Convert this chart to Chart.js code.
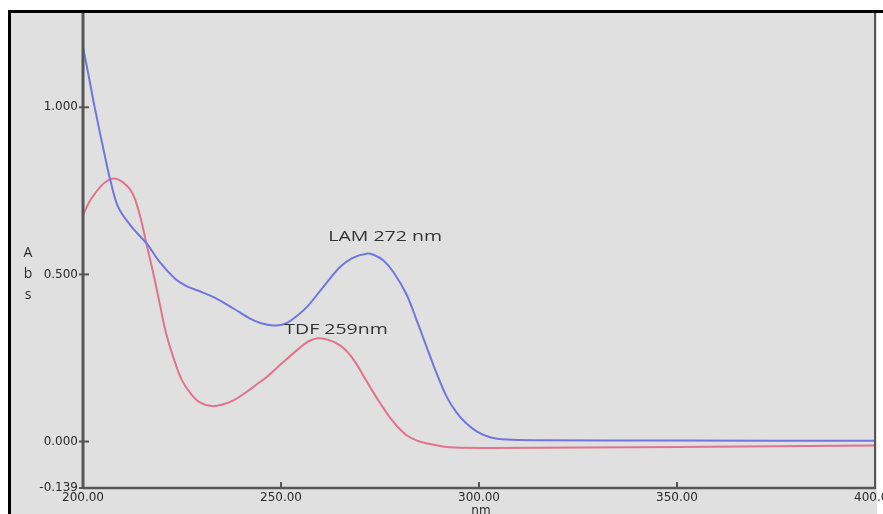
<!DOCTYPE html>
<html>
<head>
<meta charset="utf-8">
<script src="https://cdn.jsdelivr.net/npm/chart.js@4.4.1/dist/chart.umd.min.js"></script>
<style>
html,body{margin:0;padding:0;background:#fff;}
canvas{display:block;}
</style>
</head>
<body>
<canvas id="c" width="883" height="514"></canvas>
<script>
// ---- data ----
const wavelengthTicks = [200, 250, 300, 350, 400];
const absTicks = [-0.139, 0, 0.5, 1];

const lamWavelength = [200, 201.5, 203, 205.6, 206.8, 208.9, 212.3, 216.1, 219.5, 223.2, 226, 230, 233.8, 238, 242.2, 245, 248, 250.5, 252.5, 256.5, 260.5, 264.9, 268, 271.6, 273.5, 275.8, 278.5, 281.7, 284.3, 286.8, 289.3, 291.8, 294.3, 296.9, 299.5, 302.8, 307, 315, 350, 400];
const lamAbs = [1.180, 1.090, 0.997, 0.850, 0.787, 0.701, 0.642, 0.592, 0.535, 0.488, 0.466, 0.447, 0.427, 0.398, 0.368, 0.354, 0.347, 0.350, 0.362, 0.402, 0.460, 0.522, 0.549, 0.562, 0.558, 0.542, 0.505, 0.440, 0.362, 0.282, 0.204, 0.135, 0.087, 0.053, 0.030, 0.013, 0.006, 0.004, 0.003, 0.002];

const tdfWavelength = [200, 201.5, 203, 205.5, 207.8, 210, 212.4, 214.3, 216, 218, 219.5, 221, 223, 225, 227.3, 229.5, 232.5, 235, 238, 241, 244, 246.4, 250.5, 254.8, 257, 259.3, 262, 265, 267, 269, 271, 273, 275.3, 277.5, 279.6, 281.8, 284.5, 287, 290.5, 294, 303, 350, 400];
const tdfAbs = [0.677, 0.715, 0.742, 0.775, 0.787, 0.776, 0.745, 0.680, 0.593, 0.490, 0.405, 0.323, 0.245, 0.183, 0.142, 0.117, 0.106, 0.110, 0.123, 0.146, 0.172, 0.193, 0.237, 0.281, 0.300, 0.309, 0.304, 0.287, 0.265, 0.233, 0.193, 0.153, 0.110, 0.072, 0.042, 0.018, 0.002, -0.006, -0.014, -0.018, -0.019, -0.016, -0.012];

const peakLabels = ['LAM 272 nm', 'TDF 259nm'];
const peakLabelX = [276.3, 263.9];
const peakLabelY = [0.614, 0.335];

const yTitleLetters = ['A', 'b', 's'];
const xTitle = 'nm';

const lamPoints = lamWavelength.map((w, i) => ({x: w, y: lamAbs[i]}));
const tdfPoints = tdfWavelength.map((w, i) => ({x: w, y: tdfAbs[i]}));

const AXIS = '#565656';
const TEXT = '#2a2a2a';

const framePlugin = {
  id: 'frame',
  beforeDraw(chart) {
    const ctx = chart.ctx;
    ctx.save();
    ctx.fillStyle = '#ffffff';
    ctx.fillRect(0, 0, chart.width, chart.height);
    ctx.fillStyle = '#e0e0e0';
    ctx.fillRect(10, 12, chart.chartArea.right + 2 - 10, chart.height - 12);
    ctx.fillStyle = '#000000';
    ctx.fillRect(8, 10, chart.width - 8, 3);
    ctx.fillRect(8, 10, 3, chart.height - 10);
    ctx.restore();
  },
  afterDraw(chart) {
    const ctx = chart.ctx;
    const a = chart.chartArea;
    const xs = chart.scales.x, ys = chart.scales.y;
    ctx.save();
    ctx.strokeStyle = AXIS;
    // left axis
    ctx.lineWidth = 3;
    ctx.beginPath(); ctx.moveTo(a.left, 13); ctx.lineTo(a.left, a.bottom + 1); ctx.stroke();
    // bottom axis
    ctx.lineWidth = 2.5;
    ctx.beginPath(); ctx.moveTo(a.left, a.bottom); ctx.lineTo(a.right + 1, a.bottom); ctx.stroke();
    // right axis
    ctx.lineWidth = 2;
    ctx.beginPath(); ctx.moveTo(a.right, 13); ctx.lineTo(a.right, a.bottom + 1); ctx.stroke();
    // y tick marks
    ctx.lineWidth = 2;
    absTicks.forEach(v => {
      const py = ys.getPixelForValue(v);
      ctx.beginPath(); ctx.moveTo(a.left - 4, py); ctx.lineTo(a.left + 6, py); ctx.stroke();
    });
    // x tick marks (inward)
    wavelengthTicks.forEach(v => {
      const px = xs.getPixelForValue(v);
      ctx.beginPath(); ctx.moveTo(px, a.bottom); ctx.lineTo(px, a.bottom - 6); ctx.stroke();
    });
    // peak labels
    ctx.fillStyle = '#333333';
    ctx.font = '15px "Open Sans"';
    ctx.textAlign = 'center';
    ctx.textBaseline = 'middle';
    peakLabels.forEach((t, i) => {
      const px = xs.getPixelForValue(peakLabelX[i]);
      const py = ys.getPixelForValue(peakLabelY[i]);
      ctx.save();
      ctx.translate(px, py);
      ctx.scale(1.3, 1);
      ctx.fillText(t, 0, 0);
      ctx.restore();
    });
    // y title (stacked letters)
    ctx.fillStyle = TEXT;
    ctx.font = '14px "Open Sans"';
    const mid = ys.getPixelForValue(0.5);
    yTitleLetters.forEach((ch, i) => {
      ctx.fillText(ch, 28, mid - 21 + i * 21);
    });
    // x title
    ctx.font = '12px "DejaVu Sans"';
    ctx.textBaseline = 'top';
    ctx.fillText(xTitle, xs.getPixelForValue(300) + 2, 505);
    ctx.restore();
  }
};

new Chart(document.getElementById('c'), {
  type: 'scatter',
  data: {
    datasets: [
      {
        label: 'LAM',
        data: lamPoints,
        showLine: true,
        borderColor: '#7474df',
        borderWidth: 2,
        pointRadius: 0,
        tension: 0.35,
        fill: false
      },
      {
        label: 'TDF',
        data: tdfPoints,
        showLine: true,
        borderColor: '#e07490',
        borderWidth: 2,
        pointRadius: 0,
        tension: 0.35,
        fill: false
      }
    ]
  },
  options: {
    responsive: false,
    animation: false,
    devicePixelRatio: 1,
    layout: {padding: {top: 12, right: 8, left: 0, bottom: 0}},
    plugins: {legend: {display: false}, tooltip: {enabled: false}},
    scales: {
      x: {
        type: 'linear',
        min: 200,
        max: 400,
        grid: {display: false, drawTicks: false},
        border: {display: false},
        afterBuildTicks: s => { s.ticks = wavelengthTicks.map(v => ({value: v})); },
        ticks: {
          callback: v => Number(v).toFixed(2),
          color: TEXT,
          font: {family: 'DejaVu Sans', size: 12},
          padding: 3,
          maxRotation: 0,
          autoSkip: false
        },
        afterFit: s => { s.height = 26; s.paddingLeft = 0; s.paddingRight = 0; }
      },
      y: {
        type: 'linear',
        min: -0.139,
        max: 1.285,
        grid: {display: false, drawTicks: false},
        border: {display: false},
        afterBuildTicks: s => { s.ticks = absTicks.map(v => ({value: v})); },
        ticks: {
          callback: v => Number(v).toFixed(3),
          color: TEXT,
          font: {family: 'DejaVu Sans', size: 12},
          padding: 5,
          autoSkip: false
        },
        afterFit: s => { s.width = 83; s.paddingTop = 0; s.paddingBottom = 0; }
      }
    }
  },
  plugins: [framePlugin]
});
</script>
</body>
</html>
